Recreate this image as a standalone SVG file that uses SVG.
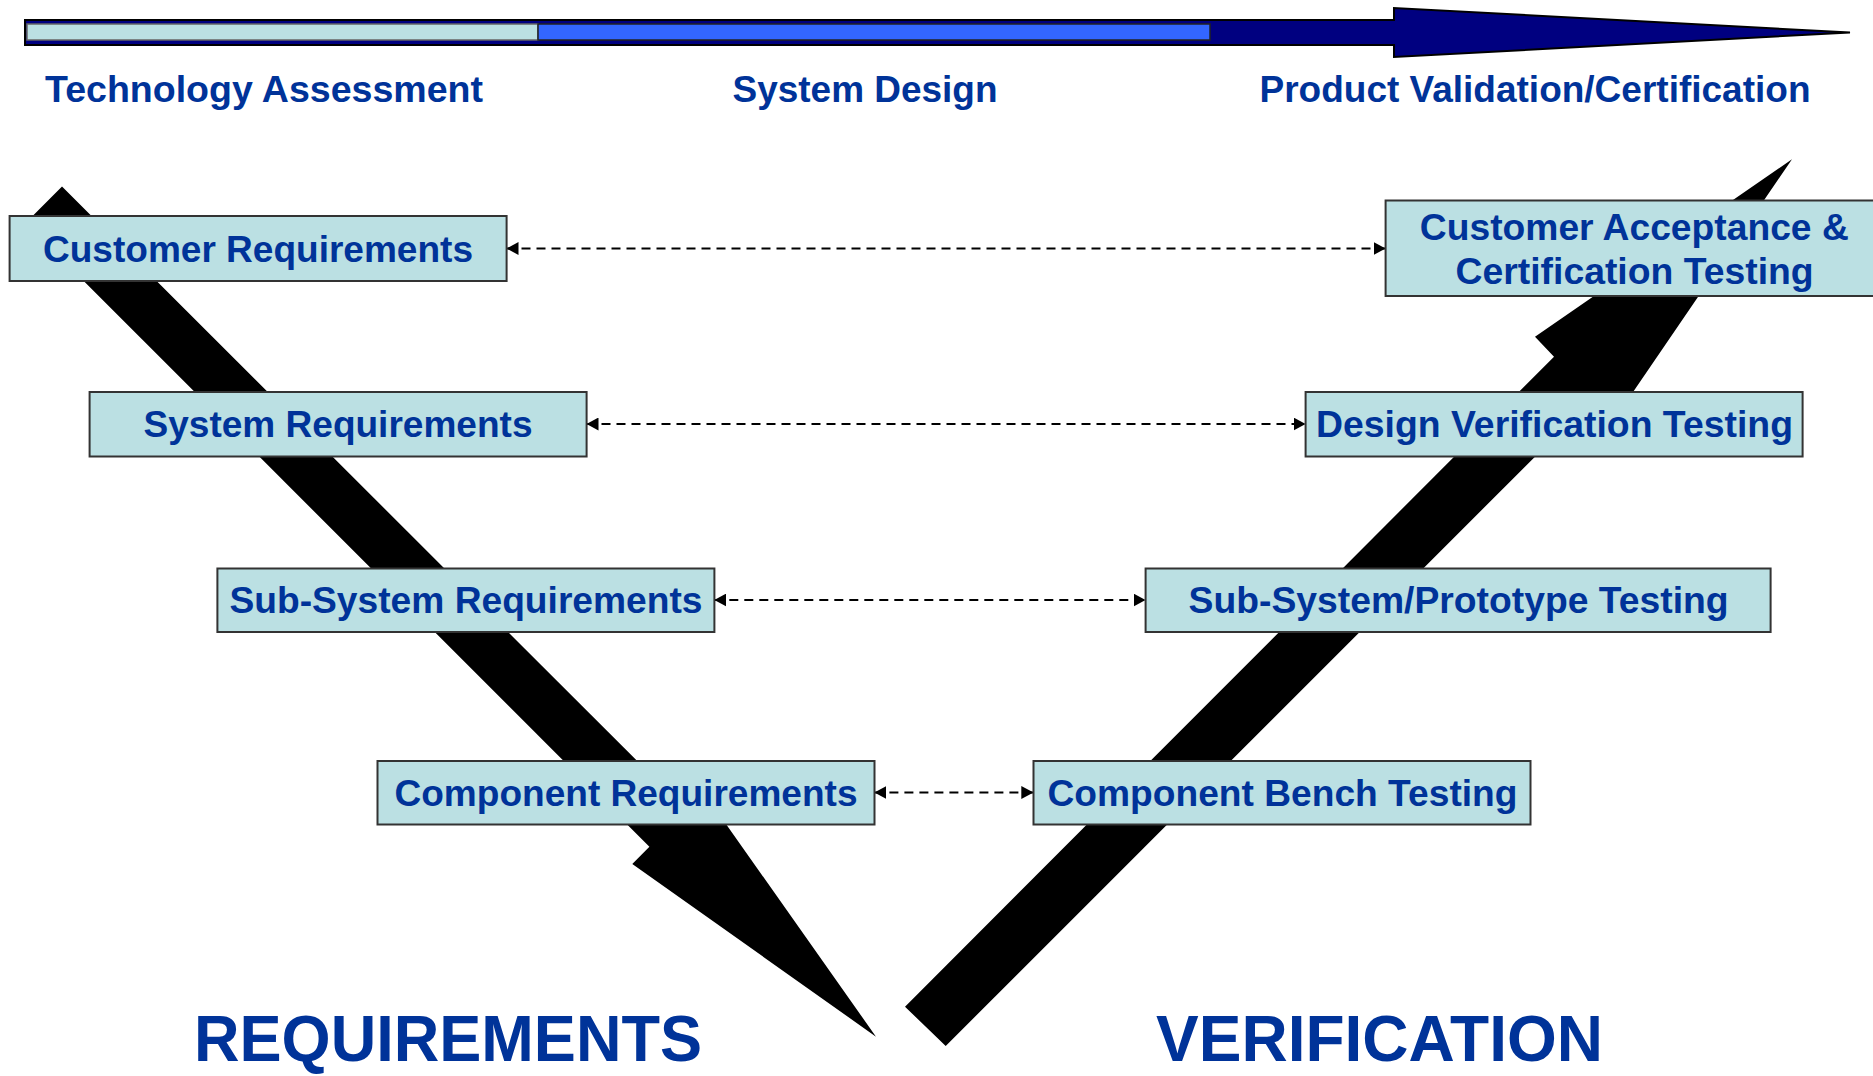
<svg xmlns="http://www.w3.org/2000/svg" width="1873" height="1076" viewBox="0 0 1873 1076">
<style>
.box{fill:#BBE0E3;stroke:#333;stroke-width:2}
.lbl{font-family:"Liberation Sans",Arial,sans-serif;font-weight:bold;font-size:37px;fill:#003399;text-anchor:middle}
.big{font-family:"Liberation Sans",Arial,sans-serif;font-weight:bold;font-size:64px;fill:#003399}
.conn{stroke:#000;stroke-width:2;stroke-dasharray:9 6;fill:none;marker-start:url(#ah);marker-end:url(#ah)}
.band{fill:#000}
</style>
<defs>
<marker id="ah" markerUnits="userSpaceOnUse" viewBox="0 0 12 13" markerWidth="12" markerHeight="13" refX="12" refY="6.5" orient="auto-start-reverse">
<path d="M0,0 L12,6.5 L0,13 Z" fill="#000"/>
</marker>
</defs>
<rect width="1873" height="1076" fill="#fff"/>

<g id="timeline">
<polygon points="25,20 1394,20 1394,8 1850,32.5 1394,57 1394,45 25,45" fill="#000080" stroke="#000" stroke-width="2"/>
<rect x="27" y="24" width="511" height="16" fill="#BBE0E3" stroke="#666" stroke-width="1.5"/>
<rect x="538" y="24" width="672" height="16" fill="#3366FF" stroke="#222" stroke-width="1.5"/>
<text class="lbl" x="264" y="102" textLength="438" lengthAdjust="spacingAndGlyphs">Technology Assessment</text>
<text class="lbl" x="865" y="102" textLength="265" lengthAdjust="spacingAndGlyphs">System Design</text>
<text class="lbl" x="1535" y="102" textLength="551" lengthAdjust="spacingAndGlyphs">Product Validation/Certification</text>
</g>

<g id="requirements-arrow">
<polygon class="band" points="62,186.5 666.3,790 702,790 876,1036.7 632.3,864 649.4,846.7 25.6,222.9"/>
</g>
<g id="verification-arrow">
<polygon class="band" points="905,1006.7 945.7,1046 1561.7,430 1607.1,430 1792,159.3 1535,336.7 1554,356.7"/>
</g>

<g id="connectors">
<line class="conn" x1="506.5" y1="248.5" x2="1385.6" y2="248.5"/>
<line class="conn" x1="586.5" y1="424" x2="1305.6" y2="424"/>
<line class="conn" x1="714.3" y1="600" x2="1145.5" y2="600"/>
<line class="conn" x1="874.4" y1="792.5" x2="1033.3" y2="792.5"/>
</g>

<g id="customer-requirements">
<rect class="box" x="9.6" y="216" width="497" height="65"/>
<text class="lbl" x="258" y="261.5" textLength="430" lengthAdjust="spacingAndGlyphs">Customer Requirements</text>
</g>
<g id="system-requirements">
<rect class="box" x="89.6" y="392" width="497" height="64.5"/>
<text class="lbl" x="338" y="437" textLength="389" lengthAdjust="spacingAndGlyphs">System Requirements</text>
</g>
<g id="subsystem-requirements">
<rect class="box" x="217.4" y="568.5" width="497" height="63.5"/>
<text class="lbl" x="466" y="613" textLength="473" lengthAdjust="spacingAndGlyphs">Sub-System Requirements</text>
</g>
<g id="component-requirements">
<rect class="box" x="377.5" y="761" width="497" height="63.5"/>
<text class="lbl" x="626" y="805.5" textLength="463" lengthAdjust="spacingAndGlyphs">Component Requirements</text>
</g>

<g id="customer-acceptance">
<rect class="box" x="1385.6" y="200.5" width="497" height="95.5"/>
<text class="lbl" x="1634.3" y="239.5" textLength="429" lengthAdjust="spacingAndGlyphs">Customer Acceptance &amp;</text>
<text class="lbl" x="1634.6" y="284" textLength="358" lengthAdjust="spacingAndGlyphs">Certification Testing</text>
</g>
<g id="design-verification">
<rect class="box" x="1305.6" y="392" width="497" height="64.5"/>
<text class="lbl" x="1554.5" y="437" textLength="477" lengthAdjust="spacingAndGlyphs">Design Verification Testing</text>
</g>
<g id="subsystem-testing">
<rect class="box" x="1145.6" y="568.5" width="625" height="63.5"/>
<text class="lbl" x="1458.6" y="613" textLength="540" lengthAdjust="spacingAndGlyphs">Sub-System/Prototype Testing</text>
</g>
<g id="component-testing">
<rect class="box" x="1033.5" y="761" width="497" height="63.5"/>
<text class="lbl" x="1282.5" y="805.5" textLength="470" lengthAdjust="spacingAndGlyphs">Component Bench Testing</text>
</g>

<g id="bottom-labels">
<text class="big" x="194" y="1061" textLength="508" lengthAdjust="spacingAndGlyphs">REQUIREMENTS</text>
<text class="big" x="1156" y="1061" textLength="447" lengthAdjust="spacingAndGlyphs">VERIFICATION</text>
</g>
</svg>
